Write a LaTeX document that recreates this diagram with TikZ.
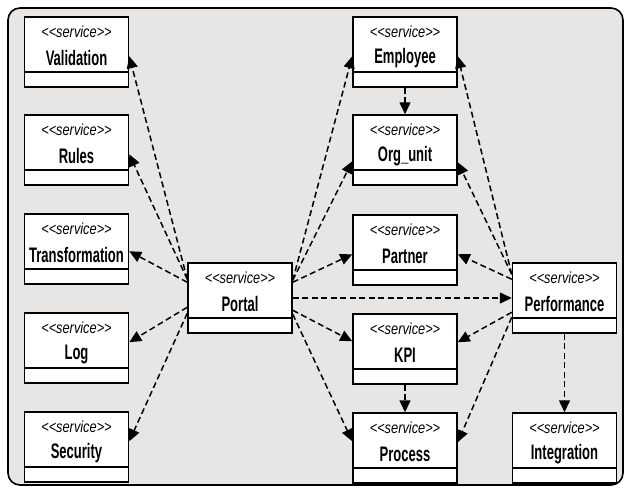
\documentclass[tikz,border=0pt]{standalone}
\usepackage{fontspec}
\setmainfont{Liberation Sans}
\newfontfamily\namefont[FakeStretch=0.62]{Liberation Sans}
\newfontfamily\stereofont[FakeStretch=0.8]{Liberation Sans}
\usetikzlibrary{arrows.meta}
\definecolor{panel}{HTML}{E8E6E5}
\tikzset{
  svc/.style={draw, fill=white, line width=1.5pt, minimum width=104pt,
    minimum height=70pt, inner sep=0pt,
    path picture={\draw[line width=1.5pt]
      ([yshift=15pt]path picture bounding box.south west) --
      ([yshift=15pt]path picture bounding box.south east);}},
  stereo/.style={inner sep=0pt, font=\stereofont\itshape\fontsize{16}{19}\selectfont},
  nm/.style={inner sep=0pt, font=\namefont\bfseries\fontsize{21}{24}\selectfont},
  conn/.style={line width=1.5pt, dash pattern=on 6pt off 3.5pt,
    -{Triangle[length=12pt,width=11pt]}},
}
% a service box: name, centre x, top y, title
\newcommand\svcbox[4]{%
  \node[svc] (#1) at (#2,#3+35) {};
  \node[stereo] (#1-s) at ([yshift=-16pt]#1.north) {<\kern0pt<service>\kern0pt>};
  \node[nm] (#1-n) at ([yshift=-42pt]#1.north) {#4};
}
\begin{document}
\begin{tikzpicture}[x=1pt,y=-1pt]
\useasboundingbox (0,0) rectangle (626,488);
\draw[line width=1.6pt, fill=panel, rounded corners=12pt] (8,8) rectangle (623,485);

% left column
\svcbox{validation}{76.5}{17}{Validation}
\svcbox{rules}{76.5}{115}{Rules}
\svcbox{transformation}{76.5}{214}{Transformation}
\svcbox{log}{76.5}{313}{Log}
\svcbox{security}{76.5}{412}{Security}
% portal
\svcbox{portal}{240}{263}{Portal}
% middle column
\svcbox{employee}{405}{17}{Employee}
\svcbox{orgunit}{405}{115}{Org\_unit}
\svcbox{partner}{405}{215}{Partner}
\svcbox{kpi}{405}{314}{KPI}
\svcbox{process}{405}{413}{Process}
% right column
\svcbox{performance}{564.5}{263}{Performance}
\svcbox{integration}{564.5}{413}{Integration}

% portal to the left column
\draw[conn] ([yshift=-17pt]portal.north west) -- ([yshift=-40pt]validation.north east);
\draw[conn] ([yshift=-17pt]portal.north west) -- ([yshift=-40pt]rules.north east);
\draw[conn] ([yshift=-20pt]portal.north west) -- ([yshift=-38pt]transformation.north east);
\draw[conn] ([yshift=-45pt]portal.north west) -- ([yshift=-30pt]log.north east);
\draw[conn] ([yshift=-51pt]portal.north west) -- ([yshift=-30pt]security.north east);

% portal to the middle column
\draw[conn] ([yshift=-18pt]portal.north east) -- ([yshift=-40pt]employee.north west);
\draw[conn] ([yshift=-18pt]portal.north east) -- ([yshift=-47pt]orgunit.north west);
\draw[conn] ([yshift=-20pt]portal.north east) -- ([yshift=-40pt]partner.north west);
\draw[conn] (portal.east) -- (performance.west);
\draw[conn] ([yshift=-48pt]portal.north east) -- ([yshift=-28pt]kpi.north west);
\draw[conn] ([yshift=-52pt]portal.north east) -- ([yshift=-29pt]process.north west);

% performance to the middle column
\draw[conn] ([yshift=-12pt]performance.north west) -- ([yshift=-40pt]employee.north east);
\draw[conn] ([yshift=-12pt]performance.north west) -- ([yshift=-48pt]orgunit.north east);
\draw[conn] ([yshift=-17pt]performance.north west) -- ([yshift=-40pt]partner.north east);
\draw[conn] ([yshift=-50pt]performance.north west) -- ([yshift=-29pt]kpi.north east);
\draw[conn] ([yshift=-55pt]performance.north west) -- ([yshift=-30pt]process.north east);

% vertical links
\draw[conn] (employee.south) -- (orgunit.north);
\draw[conn] (kpi.south) -- (process.north);
\draw[conn] (performance.south) -- (integration.north);
\end{tikzpicture}
\end{document}
